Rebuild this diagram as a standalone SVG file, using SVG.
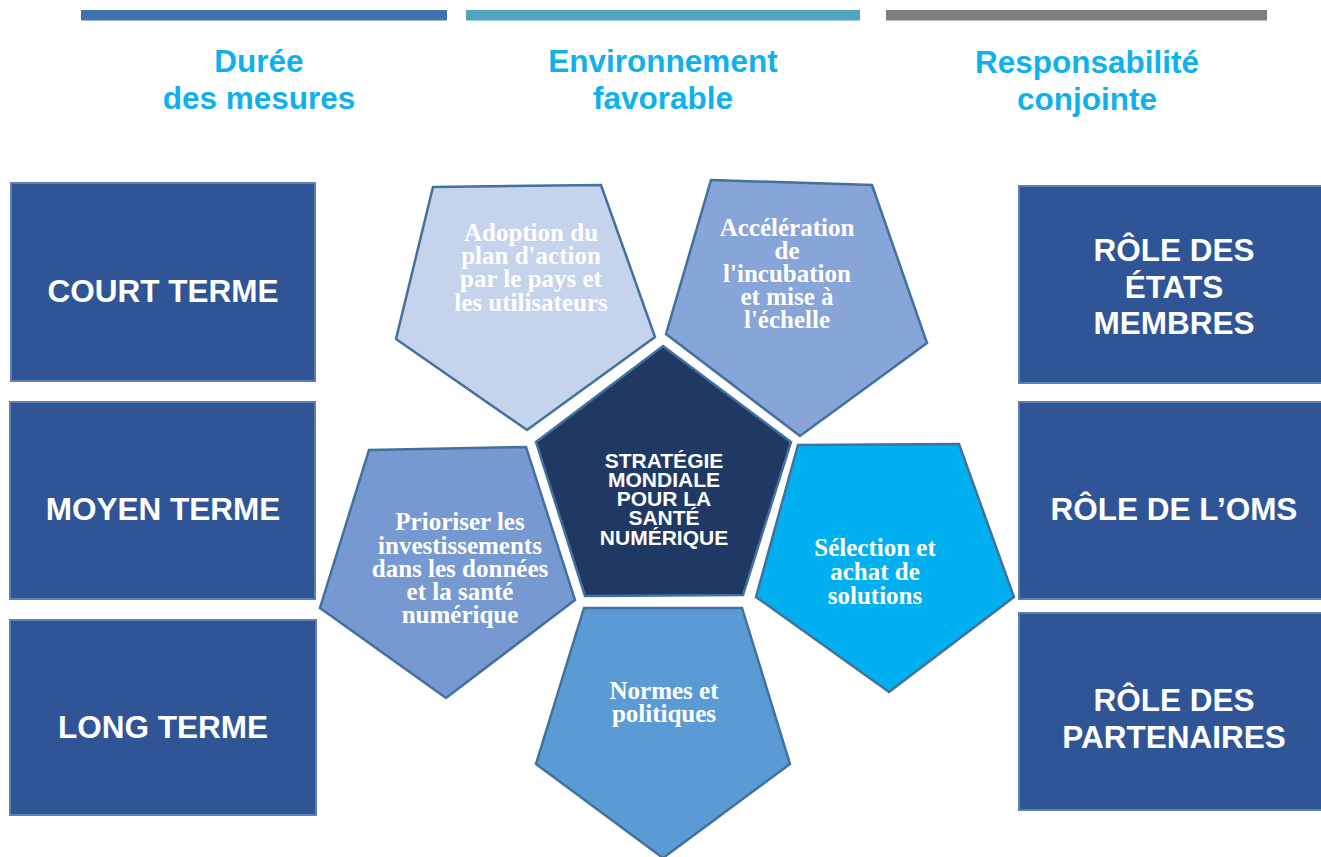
<svg xmlns="http://www.w3.org/2000/svg" width="1321" height="857" viewBox="0 0 1321 857">
<style>
.title{font-family:"Liberation Sans",Arial,sans-serif;font-weight:bold;font-size:31.5px;fill:#0fb0ee;text-anchor:middle}
.box{fill:#2f5597;stroke:#5a80b4;stroke-width:2}
.boxt{font-family:"Liberation Sans",Arial,sans-serif;font-weight:bold;font-size:31.5px;fill:#ffffff;text-anchor:middle}
.pent{stroke:#41719c;stroke-width:2.5;stroke-linejoin:miter}
.pt{font-family:"Liberation Serif","Times New Roman",serif;font-weight:bold;font-size:25px;fill:#ffffff;text-anchor:middle}
.ct{font-family:"Liberation Sans",Arial,sans-serif;font-weight:bold;font-size:21px;fill:#ffffff;text-anchor:middle}
</style>
<rect width="1321" height="857" fill="#ffffff"/>
<g id="headers">
<rect x="81" y="10" width="366" height="10.5" fill="#4272ae"/>
<rect x="466" y="10" width="394" height="10.5" fill="#4fa3bf"/>
<rect x="886" y="10" width="381" height="10.5" fill="#7f7f7f"/>
<text class="title" x="259" y="72">Durée</text>
<text class="title" x="259" y="109">des mesures</text>
<text class="title" x="663" y="72">Environnement</text>
<text class="title" x="663" y="109">favorable</text>
<text class="title" x="1087" y="73">Responsabilité</text>
<text class="title" x="1087" y="110">conjointe</text>
</g>
<g id="court-terme">
<rect class="box" x="11" y="183" width="304" height="198"/>
<text class="boxt" x="163" y="302">COURT TERME</text>
</g>
<g id="moyen-terme">
<rect class="box" x="10" y="402" width="305" height="197"/>
<text class="boxt" x="163" y="520">MOYEN TERME</text>
</g>
<g id="long-terme">
<rect class="box" x="10" y="620" width="306" height="195"/>
<text class="boxt" x="163" y="738">LONG TERME</text>
</g>
<g id="role-etats">
<rect class="box" x="1019" y="186" width="310" height="197"/>
<text class="boxt" x="1174" y="260.5">RÔLE DES</text>
<text class="boxt" x="1174" y="297.5">ÉTATS</text>
<text class="boxt" x="1174" y="333.5">MEMBRES</text>
</g>
<g id="role-oms">
<rect class="box" x="1019" y="402" width="310" height="197"/>
<text class="boxt" x="1174" y="520">RÔLE DE L’OMS</text>
</g>
<g id="role-partenaires">
<rect class="box" x="1019" y="613" width="310" height="197"/>
<text class="boxt" x="1174" y="711">RÔLE DES</text>
<text class="boxt" x="1174" y="748">PARTENAIRES</text>
</g>
<g id="adoption">
<polygon class="pent" fill="#c5d3ec" points="433,187 601,185 655,337 527,430 396,339"/>
<text class="pt" x="531" y="241">Adoption du</text>
<text class="pt" x="531" y="264">plan d'action</text>
<text class="pt" x="531" y="287">par le pays et</text>
<text class="pt" x="531" y="311">les utilisateurs</text>
</g>
<g id="acceleration">
<polygon class="pent" fill="#87a5d8" points="711,180 872,185 927,343 800,436 666,334"/>
<text class="pt" x="787" y="236">Accélération</text>
<text class="pt" x="787" y="259">de</text>
<text class="pt" x="787" y="282">l'incubation</text>
<text class="pt" x="787" y="305">et mise à</text>
<text class="pt" x="787" y="328">l'échelle</text>
</g>
<g id="strategie">
<polygon class="pent" fill="#203864" points="663,346 791,442 743,595 585,596 536,442"/>
<text class="ct" x="664" y="468">STRATÉGIE</text>
<text class="ct" x="664" y="487">MONDIALE</text>
<text class="ct" x="664" y="506">POUR LA</text>
<text class="ct" x="664" y="525">SANTÉ</text>
<text class="ct" x="664" y="545">NUMÉRIQUE</text>
</g>
<g id="prioriser">
<polygon class="pent" fill="#7799d2" points="369,450 526,447 575,600 446,698 320,608"/>
<text class="pt" x="460" y="530">Prioriser les</text>
<text class="pt" x="460" y="554">investissements</text>
<text class="pt" x="460" y="577">dans les données</text>
<text class="pt" x="460" y="600">et la santé</text>
<text class="pt" x="460" y="623">numérique</text>
</g>
<g id="selection">
<polygon class="pent" fill="#00b0f0" points="798,445 959,444 1014,597 889,692 756,597"/>
<text class="pt" x="875" y="556">Sélection et</text>
<text class="pt" x="875" y="580">achat de</text>
<text class="pt" x="875" y="604">solutions</text>
</g>
<g id="normes">
<polygon class="pent" fill="#5b9bd5" points="584,608 742,608 790,764 663,858 536,764"/>
<text class="pt" x="664" y="699">Normes et</text>
<text class="pt" x="664" y="722">politiques</text>
</g>
<g id="connectors"></g>
</svg>
